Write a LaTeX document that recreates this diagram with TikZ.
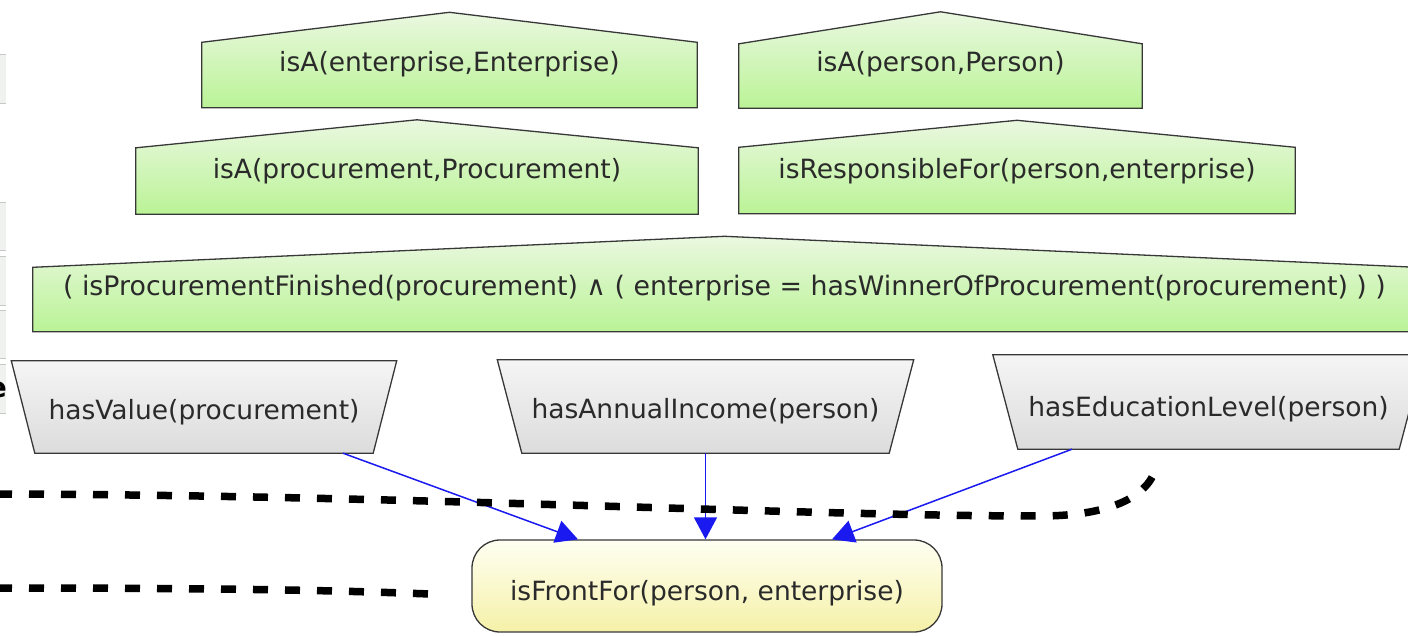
\documentclass[tikz,border=0pt]{standalone}
\usepackage{fontspec}
\setmainfont{DejaVu Sans}
\usetikzlibrary{arrows.meta,backgrounds,calc}
\definecolor{gtop}{HTML}{EAF8E0}
\definecolor{gbot}{HTML}{BAF396}
\definecolor{ytop}{HTML}{FFFFF2}
\definecolor{ybot}{HTML}{F5F1A8}
\definecolor{ktop}{HTML}{F5F5F5}
\definecolor{kbot}{HTML}{DCDCDC}
\definecolor{edge}{HTML}{383838}
\definecolor{txt}{HTML}{2A2A2A}
\definecolor{arrowblue}{HTML}{1A1AF0}
\definecolor{stripc}{HTML}{EFF2EF}
\definecolor{stripl}{HTML}{C6C9C6}
\begin{document}
\begin{tikzpicture}[x=1pt,y=-1pt,
  lbl/.style={inner sep=0pt, text=txt, font=\fontsize{26.5}{30}\selectfont, text height=24pt, text depth=0pt},
  lower/.style={text height=29pt},
  gfill/.style={draw=edge, line width=1.3pt, top color=gtop, bottom color=gbot},
  kfill/.style={draw=edge, line width=1.3pt, top color=ktop, bottom color=kbot},
  ybox/.style={lbl, lower, draw=edge, line width=1.3pt, rounded corners=28pt, top color=ytop, bottom color=ybot},
  barrow/.style={draw=arrowblue, line width=1.5pt, -{Triangle[length=22pt,width=23pt]}},
  dline/.style={draw=black, line width=7.5pt, dash pattern=on 15pt off 17pt},
  stripfill/.style={fill=stripc},
  stripline/.style={draw=stripl, line width=1pt}]
\useasboundingbox (0,0) rectangle (1408,636);
\clip (0,0) rectangle (1408,636);

% left edge fragments
\fill[stripfill] (0,55) rectangle (6,104);
\fill[stripfill] (0,203) rectangle (6,251);
\fill[stripfill] (0,257) rectangle (6,306);
\fill[stripfill] (0,311) rectangle (6,358);
\fill[stripfill] (0,364) rectangle (6,413);
\foreach \yy in {55,104,203,251,257,306,311,358,364,413}
  \draw[stripline] (0,\yy) -- (6,\yy);
\node[inner sep=0pt, anchor=east, font=\bfseries\fontsize{28}{30}\selectfont] (frag) at (7,390) {e};

% green condition boxes
\node[lbl, minimum width=495pt, minimum height=95pt] (g1) at (449.5,60) {isA(enterprise,Enterprise)};
\node[lbl, minimum width=403pt, minimum height=96pt] (g2) at (940.5,60) {isA(person,Person)};
\node[lbl, minimum width=562pt, minimum height=94pt] (g3) at (417,167) {isA(procurement,Procurement)};
\node[lbl, minimum width=556pt, minimum height=93pt] (g4) at (1017,167) {isResponsibleFor(person,enterprise)};
\node[lbl, font=\fontsize{26.8}{30}\selectfont, minimum width=1383pt, minimum height=95pt] (g5) at (724.5,284) {( isProcurementFinished(procurement) ∧ ( enterprise = hasWinnerOfProcurement(procurement) ) )};

% grey trapezoid nodes
\node[lbl, minimum width=338pt, minimum height=92pt] (v1) at (204,407) {hasValue(procurement)};
\node[lbl, minimum width=367pt, minimum height=93pt] (v2) at (705.5,406.5) {hasAnnualIncome(person)};
\node[lbl, lower, minimum width=381pt, minimum height=94pt] (v3) at (1208.5,402) {hasEducationLevel(person)};

% yellow result node
\node[ybox, minimum width=470pt, minimum height=92pt] (f) at (707,586) {isFrontFor(person, enterprise)};

\begin{scope}[on background layer]
  \path[gfill] (g1.south west) -- ([yshift=-30pt]g1.north west) -- (g1.north) -- ([yshift=-30pt]g1.north east) -- (g1.south east) -- cycle;
  \path[gfill] (g2.south west) -- ([yshift=-32pt]g2.north west) -- (g2.north) -- ([yshift=-32pt]g2.north east) -- (g2.south east) -- cycle;
  \path[gfill] (g3.south west) -- ([yshift=-28pt]g3.north west) -- (g3.north) -- ([yshift=-28pt]g3.north east) -- (g3.south east) -- cycle;
  \path[gfill] (g4.south west) -- ([yshift=-27pt]g4.north west) -- (g4.north) -- ([yshift=-27pt]g4.north east) -- (g4.south east) -- cycle;
  \path[gfill] (g5.south west) -- ([yshift=-31pt]g5.north west) -- (g5.north) -- ([yshift=-31pt]g5.north east) -- (g5.south east) -- cycle;
  \path[kfill] ([xshift=-23.5pt]v1.north west) -- ([xshift=23.5pt]v1.north east) -- (v1.south east) -- (v1.south west) -- cycle;
  \path[kfill] ([xshift=-24.5pt]v2.north west) -- ([xshift=24.5pt]v2.north east) -- (v2.south east) -- (v2.south west) -- cycle;
  \path[kfill] ([xshift=-25pt]v3.north west) -- ([xshift=25pt]v3.north east) -- (v3.south east) -- (v3.south west) -- cycle;
\end{scope}

% blue arrows
\draw[barrow] ([xshift=139pt]v1.south) -- ([xshift=-129pt]f.north);
\draw[barrow] (v2.south) -- (v2.south |- f.north);
\draw[barrow] ([xshift=-136.5pt]v3.south) -- ([xshift=125pt]f.north);

% dashed lines
\coordinate (dA0) at (-3,494);
\coordinate (dAm) at (1040,516);
\coordinate (dA1) at (1157,463);
\coordinate (dB0) at (-3,588);
\coordinate (dB1) at (430,594);
\draw[dline] (dA0) .. controls (400,495) and (800,516) .. (dAm) .. controls (1115,516) and (1152,494) .. (dA1);
\draw[dline] (dB0) .. controls (250,588) and (350,591) .. (dB1);
\end{tikzpicture}
\end{document}
